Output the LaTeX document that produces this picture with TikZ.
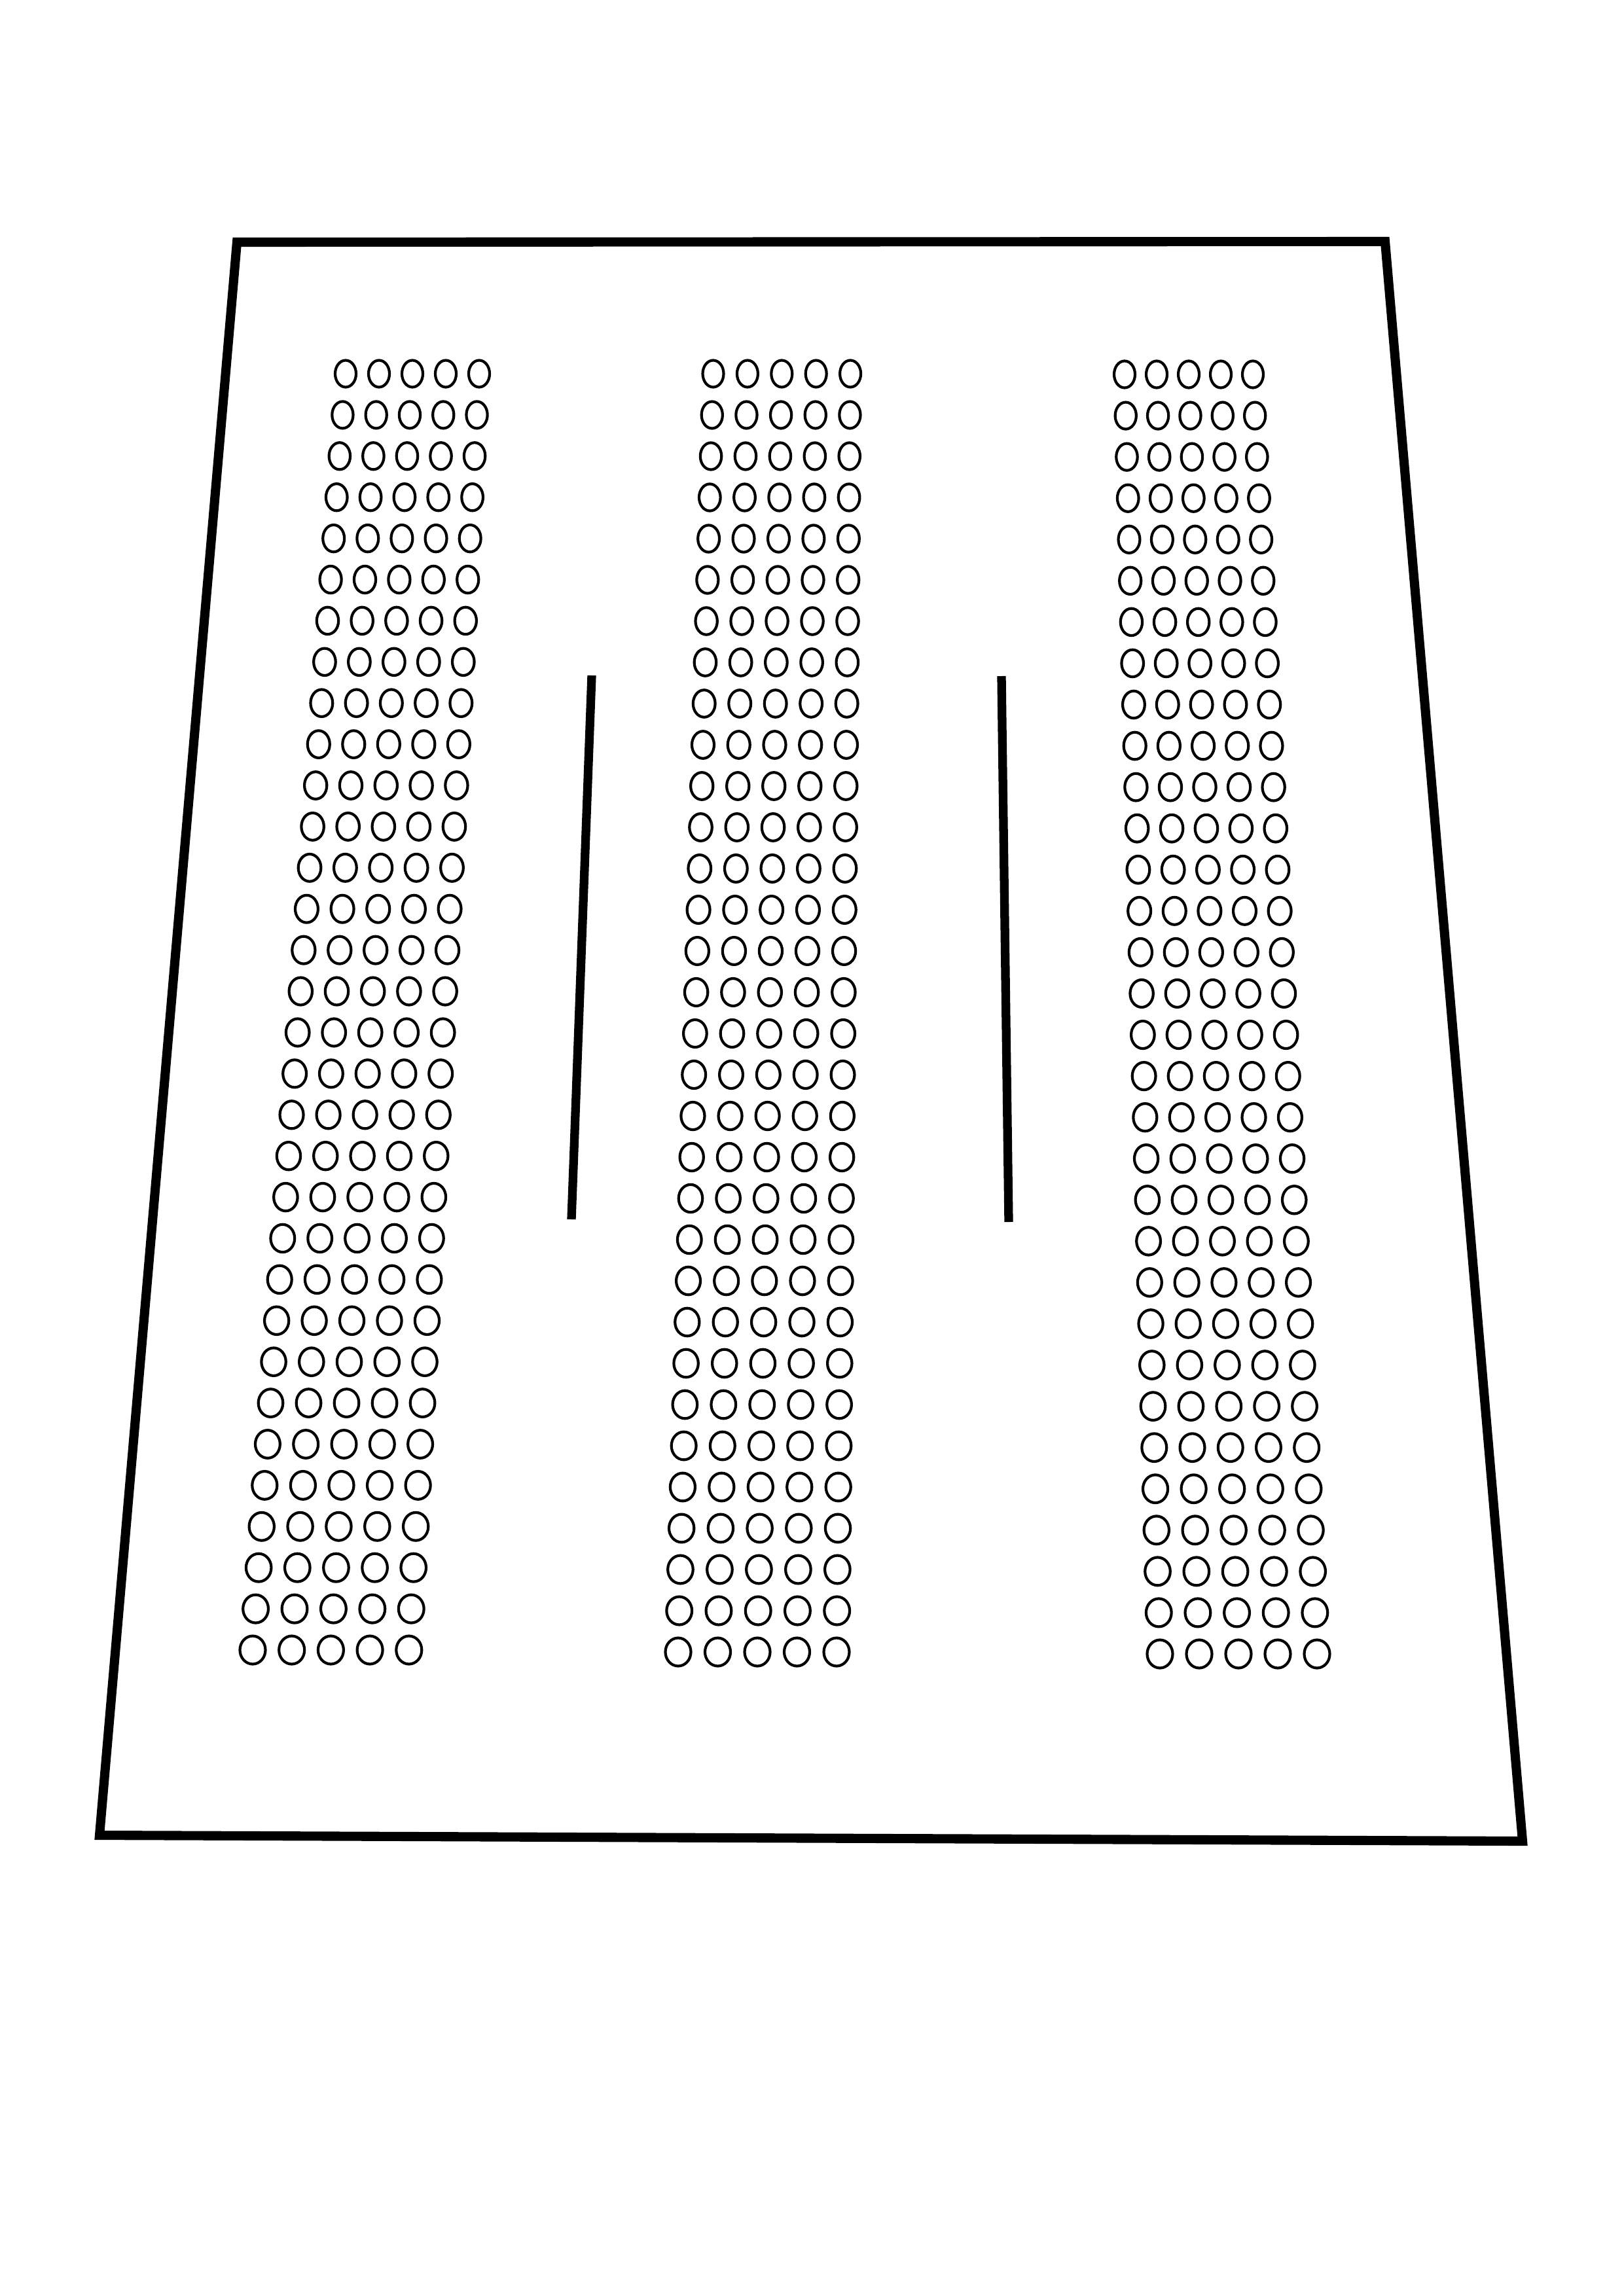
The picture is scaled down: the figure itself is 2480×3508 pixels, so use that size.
\documentclass[tikz,border=0pt]{standalone}
\usepackage{tikz}
\usetikzlibrary{calc}

% one pixel of the page, in cm
\newcommand{\px}{0.008468}

\tikzset{
    hall/.style={line width=3.4pt, line join=miter},
    aisle/.style={line width=3.2pt, line cap=butt},
    seat/.style={line width=1pt},
}

% a block of 32 rows of 5 seats: x of first seat and spacing at the
% front row, the same at the back row, then y of front and back row
\newcommand{\seatcolumn}[6]{
    \foreach \r in {0,...,31} {
        \pgfmathsetmacro{\tt}{\r/31}
        \pgfmathsetmacro{\xs}{#1+(#3-#1)*\tt}
        \pgfmathsetmacro{\ds}{#2+(#4-#2)*\tt}
        \pgfmathsetmacro{\yy}{#5+(#6-#5)*\tt}
        \pgfmathsetmacro{\rx}{(16+3.5*\tt)*\px}
        \pgfmathsetmacro{\ry}{(20.5+1*\tt)*\px}
        \foreach \c in {0,...,4}
            \draw[seat] (\xs+\c*\ds,\yy) ellipse [x radius=\rx cm, y radius=\ry cm];
    }
}

\begin{document}
\begin{tikzpicture}[x=\px cm, y=-\px cm]
    \useasboundingbox (0,0) rectangle (2480,3508);

    % outline of the hall
    \coordinate (tl) at (362,370);
    \coordinate (tr) at (2116,369);
    \coordinate (br) at (2326,2813);
    \coordinate (bl) at (152,2804);
    \draw[hall] (tl) -- (tr) -- (br) -- (bl) -- cycle;

    % seat blocks
    \seatcolumn{528}{51}{386}{59.7}{571}{2521}
    \seatcolumn{1089.5}{52.4}{1036}{60.5}{571}{2524}
    \seatcolumn{1718}{49}{1772}{60}{572}{2527}

    % aisles
    \coordinate (a1) at (904,1032);
    \coordinate (b1) at (873,1863);
    \coordinate (a2) at (1530,1033);
    \coordinate (b2) at (1541,1867);
    \draw[aisle] (a1) -- (b1);
    \draw[aisle] (a2) -- (b2);
\end{tikzpicture}
\end{document}
